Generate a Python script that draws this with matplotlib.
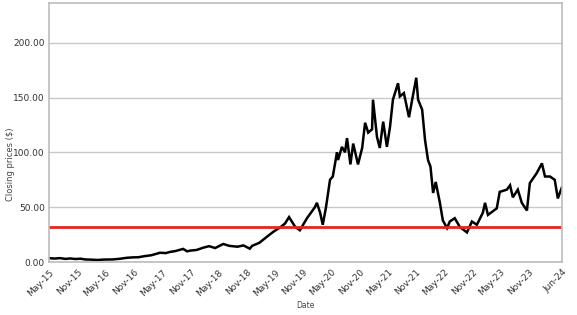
import numpy as np
import pandas as pd
import matplotlib
matplotlib.use('Agg')
import matplotlib.pyplot as plt
import matplotlib.dates as mdates

# closing prices (approximate)
dates = ['2015-05-01', '2015-06-05', '2015-07-10', '2015-08-15', '2015-09-15', '2015-10-20',
         '2015-11-20', '2015-12-20', '2016-02-01', '2016-03-10', '2016-04-20', '2016-06-15',
         '2016-08-01', '2016-09-15', '2016-10-25', '2016-11-28', '2017-01-12', '2017-02-20',
         '2017-04-18', '2017-05-25', '2017-06-20', '2017-07-25', '2017-09-15', '2017-10-10',
         '2017-11-01', '2017-12-10', '2018-01-20', '2018-03-01', '2018-04-10', '2018-06-01',
         '2018-07-10', '2018-09-01', '2018-10-10', '2018-11-20', '2018-12-05', '2019-01-20',
         '2019-03-10', '2019-04-20', '2019-06-03', '2019-07-05', '2019-08-01', '2019-09-10',
         '2019-10-10', '2019-11-25', '2020-01-15', '2020-01-28', '2020-02-18', '2020-03-06',
         '2020-03-27', '2020-04-22', '2020-05-10', '2020-06-06', '2020-06-13', '2020-07-08',
         '2020-07-28', '2020-08-10', '2020-09-01', '2020-09-19', '2020-10-20', '2020-11-16',
         '2020-12-05', '2020-12-25', '2021-01-19', '2021-01-25', '2021-02-20', '2021-03-10',
         '2021-04-01', '2021-04-25', '2021-05-15', '2021-06-03', '2021-07-06', '2021-07-18',
         '2021-08-13', '2021-09-15', '2021-10-03', '2021-11-01', '2021-11-13', '2021-12-09',
         '2021-12-28', '2022-01-16', '2022-02-01', '2022-02-18', '2022-03-07', '2022-04-03',
         '2022-04-22', '2022-05-19', '2022-06-06', '2022-07-08', '2022-08-10', '2022-09-25',
         '2022-10-27', '2022-11-28', '2023-01-06', '2023-01-20', '2023-02-08', '2023-04-06',
         '2023-04-25', '2023-06-10', '2023-07-01', '2023-07-19', '2023-08-20', '2023-09-15',
         '2023-10-18', '2023-11-06', '2023-12-20', '2024-01-23', '2024-02-12', '2024-03-15',
         '2024-04-15', '2024-05-05', '2024-05-31']
prices = [3.6, 3.2, 3.6, 2.9, 3.3, 2.8,
          3.1, 2.4, 2.2, 1.9, 2.3, 2.4,
          3.0, 3.9, 4.3, 4.4, 5.5, 6.2,
          8.5, 8.2, 9.2, 10.0, 12.0, 9.8,
          10.5, 11.0, 13.0, 14.5, 12.8, 16.5,
          14.8, 14.0, 15.2, 12.2, 14.8, 17.5,
          23.0, 27.5, 31.5, 35.0, 41.0, 32.0,
          29.0, 40.0, 50.0, 54.0, 45.0, 34.0,
          50.0, 75.0, 78.0, 100.0, 93.0, 105.0,
          100.0, 113.0, 89.0, 108.0, 89.0, 104.0,
          127.0, 118.0, 121.0, 148.0, 114.0, 104.0,
          128.0, 105.0, 123.0, 148.0, 163.0, 151.0,
          154.0, 132.0, 146.0, 168.0, 148.0, 139.0,
          111.0, 93.0, 87.0, 63.0, 73.0, 54.0,
          38.0, 31.0, 37.0, 40.0, 32.0, 27.0,
          37.0, 34.0, 45.0, 54.0, 43.0, 49.0,
          64.0, 66.0, 70.0, 59.0, 66.0, 54.0,
          47.0, 72.0, 81.0, 90.0, 78.0, 78.0,
          75.0, 58.0, 68.0]
threshold = 32.0

tick_dates = ['2015-05-01', '2015-11-01', '2016-05-01', '2016-11-01', '2017-05-01',
              '2017-11-01', '2018-05-01', '2018-11-01', '2019-05-01', '2019-11-01',
              '2020-05-01', '2020-11-01', '2021-05-01', '2021-11-01', '2022-05-01',
              '2022-11-01', '2023-05-01', '2023-11-01', '2024-06-01']

x = pd.to_datetime(dates)

fig = plt.figure(figsize=(5.77, 3.15), dpi=100)
ax = fig.add_axes([0.085, 0.168, 0.889, 0.822])

ax.plot(x, prices, color='black', lw=1.8, solid_joinstyle='miter')
ax.axhline(threshold, color='#e3261c', lw=2)

ax.set_ylim(0, 236)
ax.set_xlim(pd.Timestamp('2015-05-01'), pd.Timestamp('2024-06-01'))
ax.set_yticks([0, 50, 100, 150, 200])
ax.set_yticklabels(['%.2f' % v for v in [0, 50, 100, 150, 200]])
ax.yaxis.grid(True, color='#c8c8c8', lw=1)
ax.set_axisbelow(True)

ax.set_xticks(pd.to_datetime(tick_dates))
ax.xaxis.set_major_formatter(mdates.DateFormatter('%b-%y'))
plt.setp(ax.get_xticklabels(), rotation=45, ha='right', rotation_mode='anchor')

ax.tick_params(axis='y', length=0, labelsize=6.5, colors='#333333', pad=3)
ax.tick_params(axis='x', length=0, labelsize=6.5, colors='#333333', pad=4)
for s in ax.spines.values():
    s.set_color('#bcbcbc')
    s.set_linewidth(1.2)

fig.text(0.53, 0.03, 'Date', fontsize=5.5, color='#444444', ha='center', va='center')
fig.text(0.019, 0.48, 'Closing prices ($)', fontsize=6, color='#444444',
         ha='center', va='center', rotation=90)

fig.savefig('out.png', dpi=100)
